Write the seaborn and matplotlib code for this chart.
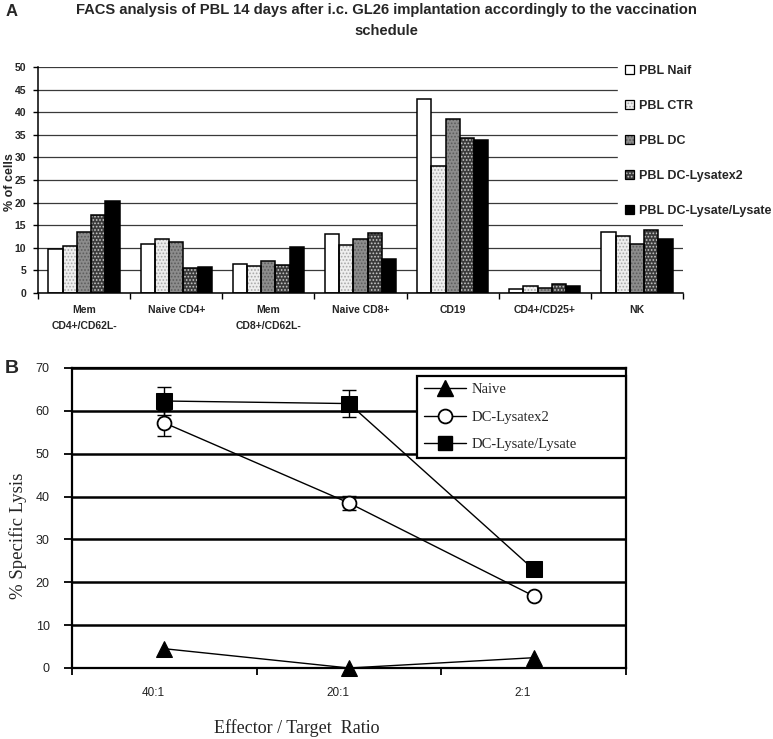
import numpy as np
import pandas as pd
import seaborn as sns
import matplotlib.pyplot as plt
from matplotlib.patches import Patch, Rectangle
from matplotlib.lines import Line2D
from matplotlib.ticker import FixedLocator, MultipleLocator
from matplotlib.transforms import ScaledTranslation

# ---- panel A : FACS of PBL ----
cell_types = ['Mem\nCD4+/CD62L-', 'Naive CD4+', 'Mem\nCD8+/CD62L-', 'Naive CD8+',
              'CD19', 'CD4+/CD25+', 'NK']
groups = ['PBL Naif', 'PBL CTR', 'PBL DC', 'PBL DC-Lysatex2', 'PBL DC-Lysate/Lysate']
naif = [9.7, 10.9, 6.4, 13.0, 43.0, 0.8, 13.6]
ctr = [10.3, 12.0, 5.9, 10.6, 28.2, 1.5, 12.5]
dc = [13.5, 11.3, 7.1, 11.9, 38.5, 1.0, 10.8]
dc_lys2 = [17.3, 5.6, 6.2, 13.2, 34.2, 2.0, 13.9]
dc_lys_lys = [20.3, 5.8, 10.2, 7.6, 33.8, 1.5, 12.0]

# ---- panel B : cytotoxicity ----
ratios = ['40:1', '20:1', '2:1']
naive_lysis = [4.5, 0.0, 2.4]
lysx2_lysis = [57.2, 38.5, 16.8]
lysx2_err = [3.0, 1.6, 0.0]
lyslys_lysis = [62.3, 61.7, 23.0]
lyslys_err = [3.2, 3.2, 0.0]

sns.set_theme(style='white')
plt.rcParams['font.family'] = ['Liberation Sans', 'DejaVu Sans']
plt.rcParams['hatch.linewidth'] = 0.8

fig = plt.figure(figsize=(7.73, 7.39), dpi=100)
W, H = 773, 739

def px_axes(l, t, r, b):
    return fig.add_axes([l / W, 1 - b / H, (r - l) / W, (b - t) / H])

# ================= panel A =================
axA = px_axes(38, 67, 683, 293)

df = pd.DataFrame({'cell': cell_types * 5,
                   'group': np.repeat(groups, len(cell_types)),
                   'pct': naif + ctr + dc + dc_lys2 + dc_lys_lys})

# face, hatch, hatch colour for each group
styles = [('white', '', 'white'),
          ('#eeeeee', '.....', '#a8a8a8'),
          ('#8c8c8c', '.....', '#5c5c5c'),
          ('#3a3a3a', '.....', '#c8c8c8'),
          ('black', '', 'black')]

sns.barplot(data=df, x='cell', y='pct', hue='group', hue_order=groups,
            width=0.775, ax=axA, legend=False, zorder=3)

for cont, (fc, hatch, hc) in zip(axA.containers, styles):
    for bar in cont:
        bar.set_facecolor(fc)
        bar.set_edgecolor(hc)
        bar.set_hatch(hatch)
        bar.set_linewidth(0)
        axA.add_patch(Rectangle(bar.get_xy(), bar.get_width(), bar.get_height(),
                                fill=False, edgecolor='black', lw=1.1, zorder=4))

axA.set_ylim(0, 50)
axA.set_xlim(-0.5, len(cell_types) - 0.5)
axA.yaxis.set_major_locator(MultipleLocator(5))
axA.grid(axis='y', color='#3a3a3a', lw=0.9, zorder=0)
axA.set_axisbelow(True)
for s in ['top', 'right']:
    axA.spines[s].set_visible(False)
for s in ['left', 'bottom']:
    axA.spines[s].set_color('black')
    axA.spines[s].set_linewidth(1.1)
    axA.spines[s].set_zorder(5)

axA.xaxis.set_minor_locator(FixedLocator(np.arange(-0.5, len(cell_types), 1)))
axA.tick_params(axis='x', which='major', length=0, pad=9)
axA.tick_params(axis='x', which='minor', length=4, width=1, color='black', direction='out', bottom=True)
axA.tick_params(axis='y', length=3.5, width=1, color='black', direction='out', left=True, pad=5)
for lbl in axA.get_xticklabels():
    lbl.set_fontsize(7.5)
    lbl.set_fontweight('bold')
    lbl.set_linespacing(1.75)
    lbl.set_verticalalignment('top')
for lbl in axA.get_yticklabels():
    lbl.set_fontsize(7.5)
    lbl.set_fontweight('bold')
axA.set_xlabel('')
axA.set_ylabel('% of cells', fontsize=9, fontweight='bold')
axA.yaxis.set_label_coords(-0.034, 0.49)

handlesA = [Patch(facecolor=fc, edgecolor=hc, hatch=hatch, lw=0) for fc, hatch, hc in styles]
handlesA = [(h, Patch(facecolor='none', edgecolor='black', lw=0.9)) for h in handlesA]
fig.legend(handlesA, groups, loc='upper left', bbox_to_anchor=(612 / W, 1 - 52 / H),
           frameon=True, facecolor='white', edgecolor='white', framealpha=1,
           handlelength=0.75, handleheight=0.75, handletextpad=0.4,
           labelspacing=1.85, borderpad=0.5,
           prop={'weight': 'bold', 'size': 9})

fig.text(0.5, 1 - 10 / H,
         'FACS analysis of PBL 14 days after i.c. GL26 implantation accordingly to the vaccination',
         ha='center', va='center', fontsize=10.6, fontweight='bold')
fig.text(0.5, 1 - 31 / H, 'schedule', ha='center', va='center', fontsize=10.6, fontweight='bold')
fig.text(12 / W, 1 - 11 / H, 'A', ha='center', va='center', fontsize=12, fontweight='bold')

# ================= panel B =================
axB = px_axes(72, 368, 626, 668)
serif = ['Liberation Serif', 'DejaVu Serif']

dfB = pd.DataFrame({'ratio': ratios, 'naive': naive_lysis, 'lysx2': lysx2_lysis,
                    'lyslys': lyslys_lysis})
xpos = np.arange(len(ratios))

axB.errorbar(xpos, lyslys_lysis, yerr=lyslys_err, fmt='none', ecolor='black',
             elinewidth=1, capsize=5, capthick=1, zorder=3)
axB.errorbar(xpos, lysx2_lysis, yerr=lysx2_err, fmt='none', ecolor='black',
             elinewidth=1, capsize=5, capthick=1, zorder=3)
sns.lineplot(data=dfB, x='ratio', y='naive', ax=axB, color='black', lw=1, marker='^',
             ms=11, markerfacecolor='black', markeredgecolor='black', zorder=4, clip_on=False)
sns.lineplot(data=dfB, x='ratio', y='lysx2', ax=axB, color='black', lw=1, marker='o',
             ms=10, markerfacecolor='white', markeredgecolor='black', markeredgewidth=1.3, zorder=4)
sns.lineplot(data=dfB, x='ratio', y='lyslys', ax=axB, color='black', lw=1, marker='s',
             ms=11, markerfacecolor='black', markeredgecolor='black', zorder=5)

axB.set_ylim(0, 70)
axB.set_xlim(-0.5, len(ratios) - 0.5)
axB.yaxis.set_major_locator(MultipleLocator(10))
axB.grid(axis='y', color='black', lw=1.8, zorder=0)
axB.set_axisbelow(True)
for s in ['top', 'right', 'left', 'bottom']:
    axB.spines[s].set_color('black')
    axB.spines[s].set_linewidth(1.6)
axB.xaxis.set_minor_locator(FixedLocator(np.arange(-0.5, len(ratios), 1)))
axB.tick_params(axis='x', which='major', length=0, pad=14, labelsize=8.5, colors='#222222')
axB.tick_params(axis='x', which='minor', length=5, width=1.3, color='black', direction='out', bottom=True)
axB.tick_params(axis='y', length=6, width=1.3, color='black', direction='out', left=True,
                pad=10, labelsize=9, labelcolor='#222222')
for lbl in axB.get_xticklabels():
    lbl.set_transform(lbl.get_transform() + ScaledTranslation(-11 / 100, 0, fig.dpi_scale_trans))

axB.set_ylabel('% Specific Lysis', family=serif, fontsize=13.5)
axB.yaxis.set_label_coords(-0.082, 0.44)
axB.set_xlabel('Effector / Target  Ratio', family=serif, fontsize=13)
axB.xaxis.set_label_coords(0.406, -0.17)

handlesB = [Line2D([], [], color='black', lw=1, marker='^', ms=11, markerfacecolor='black'),
            Line2D([], [], color='black', lw=1, marker='o', ms=10, markerfacecolor='white',
                   markeredgewidth=1.3),
            Line2D([], [], color='black', lw=1, marker='s', ms=10, markerfacecolor='black')]
legB = axB.legend(handlesB, ['Naive', 'DC-Lysatex2', 'DC-Lysate/Lysate'],
                  loc='upper left', bbox_to_anchor=(0.623, 0.683, 0.377, 0.29), mode='expand',
                  borderaxespad=0, frameon=True, fancybox=False, edgecolor='black',
                  framealpha=1, facecolor='white', handlelength=2.9, handletextpad=0.4,
                  borderpad=0.45, labelspacing=1.0, prop={'family': serif, 'size': 10.5})
legB.get_frame().set_linewidth(1.6)
legB.set_zorder(10)

fig.text(12 / W, 1 - 369 / H, 'B', ha='center', va='center', fontsize=14, fontweight='bold')

fig.savefig('out.png', dpi=100)
